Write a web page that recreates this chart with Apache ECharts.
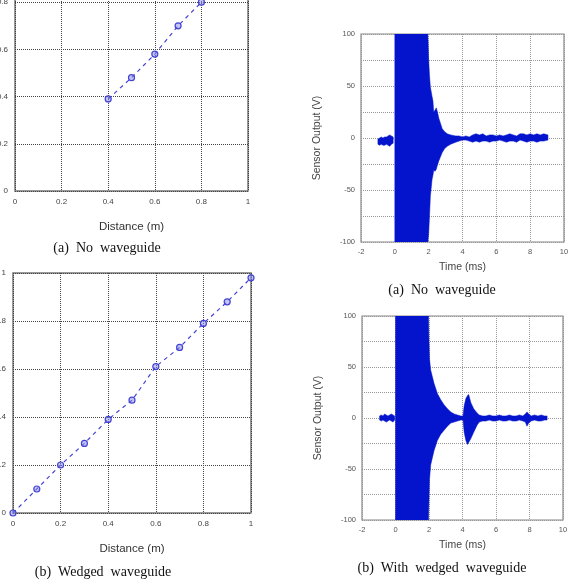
<!DOCTYPE html>
<html>
<head>
<meta charset="utf-8">
<script src="https://cdn.jsdelivr.net/npm/echarts@6/dist/echarts.min.js"></script>
<style>
  html, body { margin: 0; padding: 0; background: #fff; }
  #main { width: 570px; height: 585px; }
</style>
</head>
<body>
<div id="main"></div>
<script>
// left panels: measured vs. actual distance
var distNoGuide = [0.4, 0.5, 0.6, 0.7, 0.8];
var valNoGuide = [0.39, 0.48, 0.58, 0.70, 0.80];
var distWedged = [0, 0.1, 0.2, 0.3, 0.4, 0.5, 0.6, 0.7, 0.8, 0.9, 1.0];
var valWedged = [0, 0.10, 0.20, 0.29, 0.39, 0.47, 0.61, 0.69, 0.79, 0.88, 0.98];

// right panels: signal envelope (upper / lower edge, V)
var preTimeA = [-1.0, -0.9, -0.8, -0.7, -0.6, -0.5, -0.4, -0.3, -0.2, -0.1];
var preUpA = [-1, 0, 1, 0, 1, 1, 2, 3, 2, 1];
var preLowA = [-6, -7, -6, -7, -7, -6, -7, -8, -6, -5];
var timeA = [0, 1.95, 2.0, 2.05, 2.1, 2.2, 2.25, 2.3, 2.38, 2.45, 2.52, 2.6, 2.7, 2.8, 2.95, 3.1, 3.3, 3.6,
  3.8, 4.0, 4.2, 4.4, 4.6, 4.8, 5.0, 5.2, 5.4, 5.6, 5.8, 6.0, 6.2, 6.4, 6.6, 6.8, 7.0, 7.2, 7.4, 7.6, 7.8, 8.0, 8.2, 8.4, 8.6, 8.8, 9.05];
var upA = [100, 100, 75, 60, 49, 40, 36, 25, 27, 29, 25, 19, 14, 9, 6, 4, 3, 2,
  2, 1, 2, 1, 3, 4, 3, 4, 2, 3, 3, 2, 3, 2, 3, 4, 3, 2, 4, 4, 3, 4, 3, 4, 3, 4, 3];
var lowA = [-100, -100, -92, -75, -56, -40, -36, -31, -32, -30, -26, -22, -18, -14, -10, -8, -6, -4,
  -3, -2, -2, -3, -4, -3, -4, -3, -3, -4, -3, -3, -2, -3, -4, -3, -3, -4, -2, -3, -4, -3, -3, -4, -3, -3, -2];

var preTimeB = [-0.95, -0.85, -0.75, -0.65, -0.55, -0.45, -0.35, -0.25, -0.15, -0.05];
var preUpB = [2, 3, 2, 4, 3, 2, 3, 4, 3, 2];
var preLowB = [-2, -3, -2, -3, -4, -3, -2, -3, -4, -2];
var timeB = [0, 1.97, 2.0, 2.03, 2.1, 2.3, 2.5, 2.7, 2.9, 3.1, 3.3, 3.5, 3.7, 3.9, 4.03,
  4.1, 4.2, 4.3, 4.37, 4.5, 4.67, 4.87, 5.0, 5.2, 5.4, 5.6, 5.8, 6.0, 6.2, 6.4, 6.6, 6.8, 7.0, 7.2, 7.4, 7.6, 7.75,
  7.85, 7.95, 8.1, 8.3, 8.5, 8.7, 8.9, 9.05];
var upB = [100, 100, 75, 58, 47, 34, 24, 18, 13, 9, 6, 4, 3, 2, 2,
  12, 19, 22, 23, 15, 9, 5, 3, 2, 2, 3, 2, 2, 3, 2, 2, 3, 2, 2, 3, 2, 4,
  6, 4, 2, 3, 2, 3, 2, 2];
var lowB = [-100, -100, -80, -60, -46, -32, -22, -16, -12, -8, -5, -4, -3, -2, -2,
  -14, -22, -26, -24, -20, -14, -7, -4, -3, -3, -2, -3, -3, -2, -3, -3, -2, -3, -3, -2, -3, -4,
  -8, -5, -3, -2, -3, -3, -2, -2];

var chart = echarts.init(document.getElementById('main'));

var markColor = '#4444d4';
var signalColor = '#0414cc';
var labelFont = 'Liberation Sans, Arial, sans-serif';
var serifFont = 'Liberation Serif, Times New Roman, serif';

function pairs(xs, ys) {
  return xs.map(function (x, i) { return [x, ys[i]]; });
}

function distAxisX(idx) {
  return {
    gridIndex: idx, type: 'value', min: 0, max: 1, interval: 0.2,
    name: 'Distance (m)', nameLocation: 'middle', nameGap: 30,
    nameTextStyle: { fontFamily: labelFont, fontSize: 11.5, color: '#333' },
    axisLine: { show: false }, axisTick: { show: false },
    axisLabel: { margin: 7, fontFamily: labelFont, fontSize: 8, color: '#444' },
    splitLine: { lineStyle: { type: 'dotted', color: '#444', width: 1 } }
  };
}

function distAxisY(idx) {
  return {
    gridIndex: idx, type: 'value', min: 0, max: 1, interval: 0.2,
    axisLine: { show: false }, axisTick: { show: false },
    axisLabel: { margin: 7, fontFamily: labelFont, fontSize: 8, color: '#444' },
    splitLine: { lineStyle: { type: 'dotted', color: '#444', width: 1 } }
  };
}

function timeAxisX(idx) {
  return {
    gridIndex: idx, type: 'value', min: -2, max: 10, interval: 2,
    name: 'Time (ms)', nameLocation: 'middle', nameGap: 20,
    nameTextStyle: { fontFamily: labelFont, fontSize: 10.5, color: '#444' },
    axisLine: { show: false }, axisTick: { show: false },
    axisLabel: { margin: 6, fontFamily: labelFont, fontSize: 7.5, color: '#555' },
    splitLine: { lineStyle: { type: 'dotted', color: '#999', width: 1 } }
  };
}

function voltAxisY(idx) {
  return {
    gridIndex: idx, type: 'value', min: -100, max: 100, interval: 25,
    name: 'Sensor Output (V)', nameLocation: 'middle', nameGap: 38,
    nameTextStyle: { fontFamily: labelFont, fontSize: 10.5, color: '#444' },
    axisLine: { show: false }, axisTick: { show: false },
    axisLabel: {
      margin: 6, fontFamily: labelFont, fontSize: 7.5, color: '#555',
      formatter: function (v) { return v % 50 === 0 ? String(v) : ''; }
    },
    splitLine: { lineStyle: { type: 'dotted', color: '#999', width: 1 } }
  };
}

function distSeries(idx, xs, ys) {
  return {
    type: 'line', xAxisIndex: idx, yAxisIndex: idx,
    data: pairs(xs, ys),
    symbol: 'circle', symbolSize: 6,
    itemStyle: { color: 'rgba(140,140,235,0.5)', borderColor: markColor, borderWidth: 1.2 },
    lineStyle: { color: markColor, width: 1.2, type: [4, 4] },
    clip: false, z: 5
  };
}

// envelope drawn as a filled band through the axis scales
function envelopeSeries(idx, segments) {
  return {
    type: 'custom', xAxisIndex: idx, yAxisIndex: idx,
    data: [[0, 0]], clip: true, silent: true,
    renderItem: function (params, api) {
      var children = segments.map(function (seg) {
        var t = seg[0], up = seg[1], lo = seg[2];
        var pts = [];
        for (var i = 0; i < t.length; i++) pts.push(api.coord([t[i], up[i]]));
        for (var j = t.length - 1; j >= 0; j--) pts.push(api.coord([t[j], lo[j]]));
        return {
          type: 'polygon',
          shape: { points: pts },
          style: { fill: signalColor, stroke: signalColor, lineWidth: 0.5 }
        };
      });
      return { type: 'group', children: children };
    }
  };
}

function caption(text, cx, cy) {
  return {
    type: 'text', x: cx, y: cy,
    style: {
      text: text, fill: '#111', font: '14px ' + serifFont,
      textAlign: 'center', textVerticalAlign: 'middle'
    }
  };
}

var gridStyle = {
  show: true, borderColor: '#777', borderWidth: 1.5, backgroundColor: 'transparent',
  containLabel: false, outerBoundsMode: 'none'
};

option = {
  animation: false,
  backgroundColor: '#fff',
  grid: [
    Object.assign({ left: 15, top: -45, width: 233, height: 236 }, gridStyle),
    Object.assign({ left: 13, top: 273, width: 238, height: 240 }, gridStyle),
    Object.assign({ left: 361, top: 34, width: 203, height: 208 }, gridStyle, { borderColor: '#888', borderWidth: 1.2 }),
    Object.assign({ left: 362, top: 316, width: 201, height: 204 }, gridStyle, { borderColor: '#888', borderWidth: 1.2 })
  ],
  xAxis: [distAxisX(0), distAxisX(1), timeAxisX(2), timeAxisX(3)],
  yAxis: [distAxisY(0), distAxisY(1), voltAxisY(2), voltAxisY(3)],
  series: [
    distSeries(0, distNoGuide, valNoGuide),
    distSeries(1, distWedged, valWedged),
    envelopeSeries(2, [[preTimeA, preUpA, preLowA], [timeA, upA, lowA]]),
    envelopeSeries(3, [[preTimeB, preUpB, preLowB], [timeB, upB, lowB]])
  ],
  graphic: [
    caption('(a)  No  waveguide', 107, 248),
    caption('(b)  Wedged  waveguide', 103, 572),
    caption('(a)  No  waveguide', 442, 290),
    caption('(b)  With  wedged  waveguide', 442, 568)
  ]
};
chart.setOption(option);
</script>
</body>
</html>
